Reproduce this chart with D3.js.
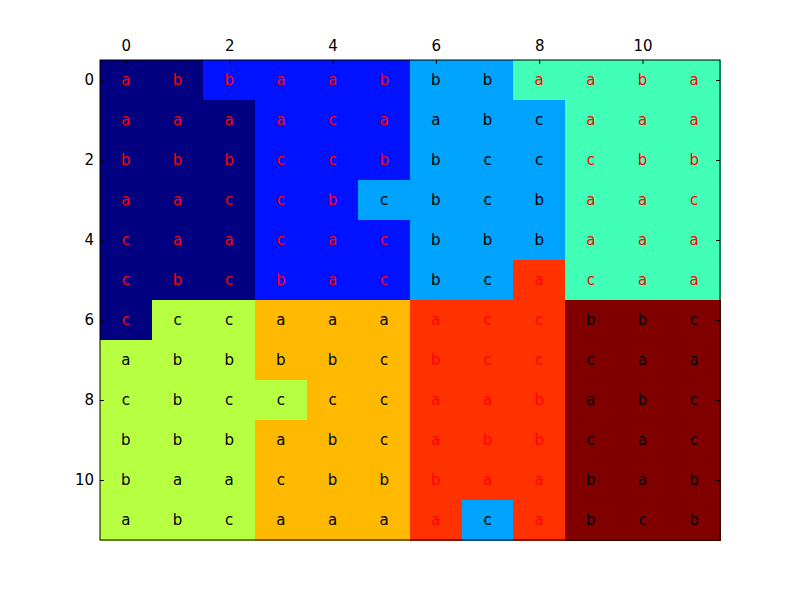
<!DOCTYPE html>
<html><head><meta charset="utf-8">
<script src="https://cdn.jsdelivr.net/npm/d3@7"></script>
<style>body{margin:0;background:#fff}svg{display:block}text{font-family:"DejaVu Sans",sans-serif}</style>
</head><body><svg id="c" width="800" height="600"></svg>
<script>
// class index of each cell (0..7), rows top to bottom
const values = [
  [0,0,1,1,1,1,2,2,3,3,3,3],
  [0,0,0,1,1,1,2,2,2,3,3,3],
  [0,0,0,1,1,1,2,2,2,3,3,3],
  [0,0,0,1,1,2,2,2,2,3,3,3],
  [0,0,0,1,1,1,2,2,2,3,3,3],
  [0,0,0,1,1,1,2,2,6,3,3,3],
  [0,4,4,5,5,5,6,6,6,7,7,7],
  [4,4,4,5,5,5,6,6,6,7,7,7],
  [4,4,4,4,5,5,6,6,6,7,7,7],
  [4,4,4,5,5,5,6,6,6,7,7,7],
  [4,4,4,5,5,5,6,6,6,7,7,7],
  [4,4,4,5,5,5,6,2,6,7,7,7]
];
const labels = [
  ["a","b","b","a","a","b","b","b","a","a","b","a"],
  ["a","a","a","a","c","a","a","b","c","a","a","a"],
  ["b","b","b","c","c","b","b","c","c","c","b","b"],
  ["a","a","c","c","b","c","b","c","b","a","a","c"],
  ["c","a","a","c","a","c","b","b","b","a","a","a"],
  ["c","b","c","b","a","c","b","c","a","c","a","a"],
  ["c","c","c","a","a","a","a","c","c","b","b","c"],
  ["a","b","b","b","b","c","b","c","c","c","a","a"],
  ["c","b","c","c","c","c","a","a","b","a","b","c"],
  ["b","b","b","a","b","c","a","b","b","c","a","c"],
  ["b","a","a","c","b","b","b","a","a","b","a","b"],
  ["a","b","c","a","a","a","a","c","a","b","c","b"]
];
// text colour per class
const classTextColor = ["#ff0000","#ff0000","#000000","#ff0000","#000000","#000000","#ff0000","#000000"];
const xTicks = [0,2,4,6,8,10];
const yTicks = [0,2,4,6,8,10];

// matplotlib jet
function seg(pts, t){
  for (let i=1;i<pts.length;i++){
    if (t<=pts[i][0]){const [x0,y0]=pts[i-1],[x1,y1]=pts[i];return y0+(y1-y0)*(t-x0)/(x1-x0);}
  }
  return pts[pts.length-1][1];
}
function jet(t){
  const r=seg([[0,0],[0.35,0],[0.66,1],[0.89,1],[1,0.5]],t);
  const g=seg([[0,0],[0.125,0],[0.375,1],[0.64,1],[0.91,0],[1,0]],t);
  const b=seg([[0,0.5],[0.11,1],[0.34,1],[0.65,0],[1,0]],t);
  return d3.rgb(Math.round(r*255),Math.round(g*255),Math.round(b*255)).toString();
}
const color = d3.scaleLinear().domain([0,7]).range([0,1]);

const svg = d3.select("#c");
const L=100,T=60,W=620,H=480;
const nR=values.length,nC=values[0].length;
const x = d3.scaleLinear().domain([-0.5,nC-0.5]).range([L,L+W]);
const y = d3.scaleLinear().domain([-0.5,nR-0.5]).range([T,T+H]);

const cells=[];
values.forEach((row,i)=>row.forEach((v,j)=>cells.push({i,j,v,l:labels[i][j]})));

const g=svg.append("g");
g.selectAll("rect.cell").data(cells).join("rect")
  .attr("x",d=>x(d.j-0.5)).attr("y",d=>y(d.i-0.5))
  .attr("width",x(1)-x(0)+0.5).attr("height",y(1)-y(0)+0.5)
  .attr("fill",d=>jet(color(d.v))).attr("shape-rendering","crispEdges");
g.selectAll("text.lab").data(cells).join("text")
  .attr("x",d=>x(d.j)).attr("y",d=>y(d.i))
  .attr("text-anchor","middle").attr("dominant-baseline","central")
  .attr("font-size",15).attr("fill",d=>classTextColor[d.v]).text(d=>d.l);

svg.append("rect").attr("x",L).attr("y",T).attr("width",W).attr("height",H)
  .attr("fill","none").attr("stroke","#000").attr("stroke-width",1);

const axTop=svg.append("g").attr("transform",`translate(0,${T})`)
  .call(d3.axisTop(x).tickValues(xTicks).tickSize(-4).tickPadding(9).tickFormat(d3.format("d")));
const axLeft=svg.append("g").attr("transform",`translate(${L},0)`)
  .call(d3.axisLeft(y).tickValues(yTicks).tickSize(-4).tickPadding(6).tickFormat(d3.format("d")));
const axRight=svg.append("g").attr("transform",`translate(${L+W},0)`)
  .call(d3.axisRight(y).tickValues(yTicks).tickSize(-4).tickFormat(""));
[axTop,axLeft,axRight].forEach(a=>{
  a.select(".domain").remove();
  a.selectAll("text").attr("font-size",15).attr("fill","#000").attr("font-family","DejaVu Sans");
  a.selectAll("line").attr("stroke","#000");
});
</script></body></html>
